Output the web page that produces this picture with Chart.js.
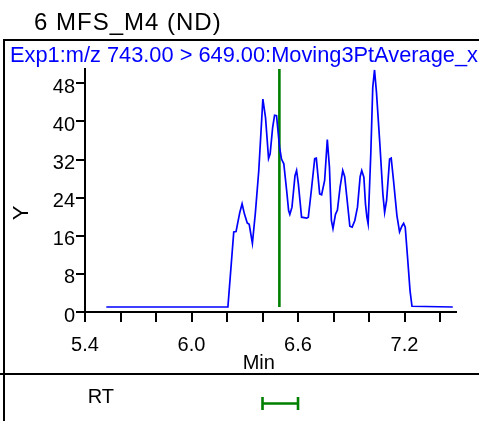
<!DOCTYPE html>
<html>
<head>
<meta charset="utf-8">
<script src="https://cdn.jsdelivr.net/npm/chart.js@4/dist/chart.umd.min.js"></script>
<style>
  html, body { margin: 0; padding: 0; background: #fff; }
  #wrap { position: relative; width: 479px; height: 421px; overflow: hidden; background: #fff; font-family: 'Liberation Sans', Arial, sans-serif; }
  #c { position: absolute; left: 0; top: 0; }
  .t { position: absolute; white-space: nowrap; line-height: 1; color: #000; }
  .ln { position: absolute; background: #000; }
</style>
</head>
<body>
<div id="wrap">
  <canvas id="c" width="479" height="421"></canvas>
  <div class="t" style="left:34px; top:9.7px; font-size:24px; letter-spacing:1px;">6 MFS_M4 (ND)</div>
  <div class="ln" style="left:3px; top:39px; width:476px; height:2px;"></div>
  <div class="ln" style="left:3px; top:39px; width:2px; height:382px;"></div>
  <div class="ln" style="left:0px; top:373px; width:479px; height:2px;"></div>
  <div class="t" style="left:10px; top:43.9px; font-size:21.8px; color:#0000ff;">Exp1:m/z 743.00 &gt; 649.00:Moving3PtAverage_x</div>
  <div class="t" style="left:1px; top:202px; width:40px; height:22px; text-align:center; font-size:22px; transform:rotate(-90deg); transform-origin:50% 50%;">Y</div>
  <div class="t" style="left:242.7px; top:352.4px; font-size:20px;">Min</div>
  <div class="t" style="left:87.7px; top:385.7px; font-size:20px;">RT</div>
</div>
<script>
// ---- data ----
const rtMin = [5.52, 6.205, 6.238, 6.251, 6.272, 6.285, 6.298, 6.314, 6.325, 6.343, 6.36, 6.379, 6.402, 6.417, 6.434, 6.443, 6.457, 6.468, 6.479, 6.496, 6.507, 6.52, 6.536, 6.547, 6.554, 6.566, 6.583, 6.592, 6.602, 6.62, 6.649, 6.658, 6.675, 6.694, 6.703, 6.722, 6.733, 6.75, 6.765, 6.777, 6.788, 6.797, 6.811, 6.822, 6.837, 6.852, 6.863, 6.875, 6.892, 6.905, 6.92, 6.935, 6.95, 6.959, 6.971, 6.98, 6.988, 6.995, 7.01, 7.021, 7.031, 7.042, 7.061, 7.078, 7.088, 7.099, 7.116, 7.125, 7.138, 7.157, 7.172, 7.185, 7.195, 7.204, 7.217, 7.231, 7.242, 7.472];
const intensity = [1.05, 1.05, 16.8, 16.9, 20.9, 22.7, 20.6, 18.7, 18.4, 14.4, 20.9, 29.7, 44.7, 40.8, 32.2, 33.2, 38.7, 41.3, 41.2, 34.6, 32.1, 31.1, 25.5, 21.3, 20.5, 22.0, 28.6, 29.7, 26.9, 19.9, 19.7, 19.9, 25.5, 32.2, 32.3, 24.8, 24.6, 27.6, 36.2, 30.4, 19.2, 17.5, 20.5, 21.4, 26.2, 29.7, 28.4, 24.1, 18.0, 17.8, 19.2, 22.0, 28.4, 29.7, 28.3, 22.7, 19.9, 18.5, 33.2, 47.1, 50.8, 46.1, 35.3, 24.8, 20.9, 23.4, 32.1, 32.3, 27.6, 20.3, 16.8, 18.0, 18.6, 17.8, 11.5, 4.5, 1.2, 1.05];
const rtMarker = 6.495;
const rtMarkerSpan = [1.05, 51];
const rtWindow = [6.4, 6.6];
const xTickValues = [5.4, 5.6, 5.8, 6.0, 6.2, 6.4, 6.6, 6.8, 7.0, 7.2, 7.4];
const xTickLabels = ['5.4', '', '', '6.0', '', '', '6.6', '', '', '7.2', ''];
const yTickValues = [0, 8, 16, 24, 32, 40, 48];
const yTickLabels = ['0', '8', '16', '24', '32', '40', '48'];

const FONT = "'Liberation Sans', Arial, sans-serif";

const rtBarPlugin = {
  id: 'rtBar',
  afterDraw(chart) {
    const xs = chart.scales.x;
    const x1 = xs.getPixelForValue(rtWindow[0]);
    const x2 = xs.getPixelForValue(rtWindow[1]);
    const y = 403.5;
    const c = chart.ctx;
    c.save();
    c.strokeStyle = '#008000';
    c.lineWidth = 2.6;
    c.beginPath();
    c.moveTo(x1, y); c.lineTo(x2, y);
    c.moveTo(x1, y - 6.5); c.lineTo(x1, y + 6.5);
    c.moveTo(x2, y - 6.5); c.lineTo(x2, y + 6.5);
    c.stroke();
    c.restore();
  }
};

new Chart(document.getElementById('c'), {
  type: 'line',
  data: {
    datasets: [
      {
        data: rtMin.map((x, i) => ({ x: x, y: intensity[i] })),
        borderColor: '#0000ff', borderWidth: 1.7, pointRadius: 0, tension: 0, fill: false
      },
      {
        data: rtMarkerSpan.map(v => ({ x: rtMarker, y: v })),
        borderColor: '#008000', borderWidth: 2.6, pointRadius: 0, fill: false
      }
    ]
  },
  options: {
    animation: false,
    responsive: false,
    maintainAspectRatio: false,
    events: [],
    plugins: { legend: { display: false }, tooltip: { enabled: false }, title: { display: false } },
    layout: { autoPadding: false, padding: { left: 0, right: 23, top: 69, bottom: 0 } },
    scales: {
      x: {
        type: 'linear', min: 5.4, max: 7.49,
        afterBuildTicks: s => { s.ticks = xTickValues.map(v => ({ value: v })); },
        afterFit: s => { s.height = 109; },
        ticks: {
          callback: (v, i) => xTickLabels[i],
          autoSkip: false, maxRotation: 0, minRotation: 0,
          font: { family: FONT, size: 20 }, color: '#000', padding: 11
        },
        grid: { drawOnChartArea: false, drawTicks: true, tickLength: 10, color: '#000', lineWidth: 2 },
        border: { display: true, color: '#000', width: 2 }
      },
      y: {
        type: 'linear', min: 0, max: 51,
        afterBuildTicks: s => { s.ticks = yTickValues.map(v => ({ value: v })); },
        afterFit: s => { s.width = 85; },
        ticks: {
          callback: (v, i) => yTickLabels[i],
          autoSkip: false, labelOffset: 4,
          font: { family: FONT, size: 20 }, color: '#000', padding: 1
        },
        grid: { drawOnChartArea: false, drawTicks: true, tickLength: 9, color: '#000', lineWidth: 2 },
        border: { display: true, color: '#000', width: 2 }
      }
    }
  },
  plugins: [rtBarPlugin]
});
</script>
</body>
</html>
